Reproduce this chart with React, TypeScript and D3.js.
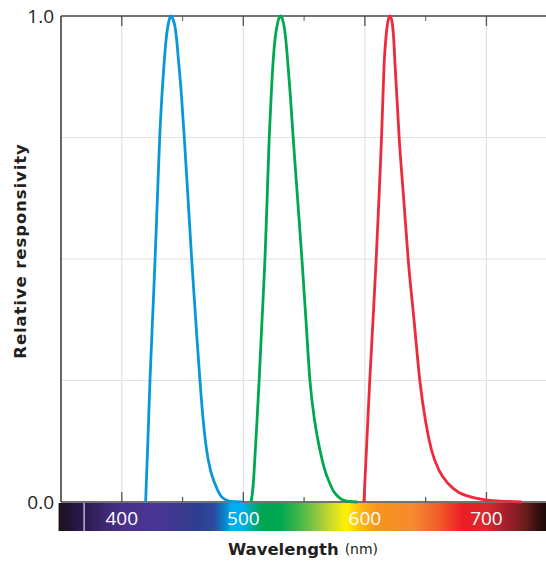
import React from "react";
import * as d3 from "d3";

const W = 546;
const H = 561;

// Data: [wavelength nm, relative responsivity]
const blueCone: [number, number][] = [
  [419.6, 0], [421.4, 0.12], [423.2, 0.25], [425.3, 0.375], [427.4, 0.5], [429.3, 0.625], [431.2, 0.75],
  [433, 0.835], [434.9, 0.905], [436.4, 0.95], [437.7, 0.976], [439.1, 0.993], [440.5, 1.0],
  [442, 0.994], [443.8, 0.978], [445.2, 0.95], [446.5, 0.913], [449, 0.84], [451.4, 0.75],
  [454.5, 0.625], [457.5, 0.5], [460.9, 0.372], [464.3, 0.25], [467, 0.168], [469.8, 0.107],
  [473, 0.065], [476.6, 0.038], [479.5, 0.021], [482, 0.011], [486, 0.004], [490, 0.001], [499, 0],
];
const greenCone: [number, number][] = [
  [506.3, 0], [507.3, 0.015], [508.2, 0.038], [509.5, 0.09], [511.2, 0.165], [513, 0.25],
  [515.4, 0.375], [517.8, 0.5], [519.6, 0.625], [521.3, 0.75], [523, 0.84], [524.6, 0.91],
  [526.2, 0.955], [527.6, 0.978], [529.1, 0.994], [530.6, 1.0], [532.1, 0.994], [533.6, 0.978],
  [535, 0.95], [536.4, 0.91], [538.7, 0.835], [541, 0.75], [544.6, 0.625], [548.2, 0.5],
  [551.5, 0.375], [554.8, 0.25], [558.8, 0.165], [563, 0.107], [567, 0.066], [571.2, 0.038],
  [574.5, 0.021], [578, 0.011], [582, 0.004], [587, 0.001], [594, 0],
];
const redCone: [number, number][] = [
  [599.2, 0], [601.6, 0.125], [604, 0.25], [606.7, 0.375], [609.3, 0.5], [611.6, 0.625], [613.7, 0.75],
  [614.8, 0.83], [615.9, 0.905], [617.3, 0.955], [618.5, 0.982], [619.6, 0.996], [620.6, 1.0],
  [621.7, 0.995], [622.8, 0.98], [623.8, 0.95], [624.7, 0.905], [626.4, 0.83], [628.2, 0.75],
  [631.9, 0.625], [635.6, 0.5], [640.4, 0.375], [645.2, 0.25], [650, 0.165], [654.8, 0.107],
  [661, 0.065], [668.5, 0.038], [677, 0.02], [686.3, 0.011], [698, 0.005], [712, 0.002], [729, 0],
];

const majorTicks = [400, 500, 600, 700];
const minorTicks = [450, 550, 650];
const yGrid = [0.25, 0.5, 0.75];
const yLabels = [0, 1];

// spectrum gradient stops [nm, color]
const spectrumStops: [number, string][] = [
  [348, "#1c1419"], [356, "#1f1235"], [372, "#2e1c55"], [388, "#3e2a72"], [400, "#46308a"],
  [425, "#493593"], [445, "#3d3990"], [462, "#2f3e8e"], [476, "#2c4a9d"], [484, "#0a7fc6"],
  [490, "#00aeef"], [500, "#00b0ec"], [507, "#00ab9a"], [515, "#00a651"], [530, "#00a651"],
  [545, "#3db54a"], [560, "#8dc63f"], [574, "#d4de25"], [585, "#fff200"], [596, "#fdbb14"],
  [610, "#f7941d"], [640, "#f58a2d"], [662, "#f05a2a"], [680, "#ed1c24"], [700, "#d82a2e"],
  [716, "#a61f2d"], [732, "#6a1c1c"], [744, "#2e0d0d"], [750, "#1a0808"],
];

const margin = { left: 61, right: 546, top: 16, bottom: 502 };

export default function App() {
  const x = d3.scaleLinear().domain([350, 749]).range([margin.left, margin.right]);
  const y = d3.scaleLinear().domain([0, 1]).range([margin.bottom, margin.top]);
  const line = d3
    .line<[number, number]>()
    .x((d) => x(d[0]))
    .y((d) => y(d[1]))
    .curve(d3.curveMonotoneX);

  const barX0 = x(348);
  const barX1 = W;
  const barY = 503;
  const barH = 28;

  const series = [
    { data: blueCone, color: "#0a97d9" },
    { data: greenCone, color: "#00a850" },
    { data: redCone, color: "#ee2a3d" },
  ];

  const font = "'Open Sans', 'DejaVu Sans', sans-serif";
  const boldFont = "'DejaVu Sans', sans-serif";
  const txt = "#231f20";

  return (
    <svg width={W} height={H} style={{ position: "absolute", left: 0, top: 0, background: "#fff" }}>
      <defs>
        <linearGradient id="spec" x1={barX0} x2={barX1} y1={0} y2={0} gradientUnits="userSpaceOnUse">
          {spectrumStops.map(([nm, c], i) => (
            <stop key={i} offset={(x(nm) - barX0) / (barX1 - barX0)} stopColor={c} />
          ))}
        </linearGradient>
      </defs>

      {/* grid */}
      {majorTicks.map((t) => (
        <line key={"gv" + t} x1={x(t)} x2={x(t)} y1={y(1)} y2={y(0)} stroke="#e2e2e2" strokeWidth={1.2} />
      ))}
      {yGrid.map((t) => (
        <line key={"gh" + t} x1={margin.left} x2={margin.right} y1={y(t)} y2={y(t)} stroke="#e2e2e2" strokeWidth={1.2} />
      ))}

      {/* ticks top and bottom */}
      {majorTicks.map((t) => (
        <g key={"mt" + t}>
          <line x1={x(t)} x2={x(t)} y1={y(1)} y2={y(1) + 10} stroke="#555" strokeWidth={1.3} />
          <line x1={x(t)} x2={x(t)} y1={y(0)} y2={y(0) - 10} stroke="#555" strokeWidth={1.3} />
        </g>
      ))}
      {minorTicks.map((t) => (
        <g key={"nt" + t}>
          <line x1={x(t)} x2={x(t)} y1={y(1)} y2={y(1) + 5} stroke="#777" strokeWidth={1.2} />
          <line x1={x(t)} x2={x(t)} y1={y(0)} y2={y(0) - 5} stroke="#555" strokeWidth={1.2} />
        </g>
      ))}

      {/* spectrum bar */}
      <rect x={barX0} y={barY} width={barX1 - barX0} height={barH} fill="url(#spec)" />
      <line x1={x(369)} x2={x(369)} y1={barY} y2={barY + barH} stroke="#fff" strokeWidth={1} />
      {majorTicks.map((t) => (
        <text key={"bl" + t} x={x(t)} y={barY + barH / 2 + 1} textAnchor="middle" dominantBaseline="central"
          fill="#fff" fontFamily={font} fontSize={19}>{t}</text>
      ))}

      {/* axes frame */}
      <line x1={margin.left} x2={margin.right} y1={y(1)} y2={y(1)} stroke="#444" strokeWidth={1.5} />
      <line x1={margin.left} x2={margin.right} y1={y(0)} y2={y(0)} stroke="#444" strokeWidth={1.5} />
      <line x1={margin.left} x2={margin.left} y1={y(1)} y2={y(0)} stroke="#333" strokeWidth={1.5} />

      {/* curves */}
      {series.map((s, i) => (
        <path key={i} d={line(s.data) || ""} fill="none" stroke={s.color} strokeWidth={2.8} strokeLinejoin="round" />
      ))}

      {/* y labels */}
      {yLabels.map((v) => (
        <text key={"yl" + v} x={54} y={y(v)} textAnchor="end" dominantBaseline="central" fill={txt}
          fontFamily={font} fontSize={19}>{v.toFixed(1)}</text>
      ))}

      {/* axis titles */}
      <text x={303} y={549} textAnchor="middle" dominantBaseline="central" fill={txt} fontFamily={boldFont}>
        <tspan fontWeight="bold" fontSize={16.5}>Wavelength</tspan>
        <tspan fontSize={14} dx={6}>(nm)</tspan>
      </text>
      <text transform={`translate(20,${251}) rotate(-90)`} textAnchor="middle" dominantBaseline="central"
        fill={txt} fontFamily={boldFont} fontWeight="bold" fontSize={16.5} letterSpacing={0.9}>Relative responsivity</text>
    </svg>
  );
}
